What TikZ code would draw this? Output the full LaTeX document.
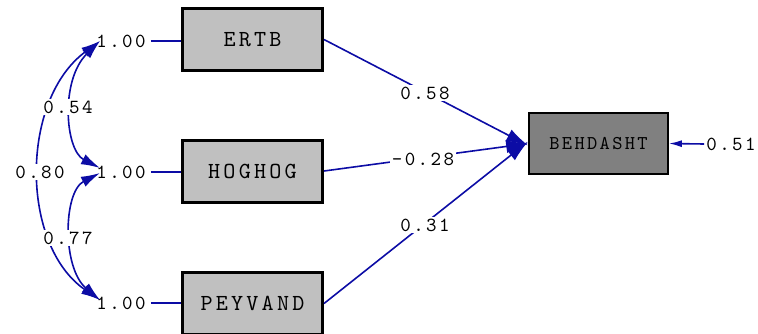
\documentclass[tikz,border=0pt]{standalone}
\usepackage{fontspec}
\usetikzlibrary{arrows.meta}
% Spaced-out typewriter faces for the path labels and the variable names
\newfontfamily\lbfont{lmmono10-regular.otf}[LetterSpace=12]
\newfontfamily\bxfont{lmmono10-regular.otf}[LetterSpace=14]
\newfontfamily\dvfont{lmmono10-regular.otf}[LetterSpace=12]
\definecolor{pathblue}{RGB}{12,12,165}
\definecolor{obsgray}{RGB}{192,192,192}
\definecolor{depgray}{RGB}{128,128,128}
\begin{document}
\begin{tikzpicture}[x=1pt,y=-1pt,
  lk/.style={draw=pathblue, line width=1.6pt},
  tip/.style={-{Latex[length=22pt,width=13pt]}},
  dtip/.style={{Latex[length=19pt,width=11pt]}-{Latex[length=19pt,width=11pt]}},
  obs/.style={draw=black, line width=3pt, fill=obsgray, minimum width=140pt,
    minimum height=62pt, inner sep=0pt, font=\bxfont\fontsize{23}{23}\selectfont},
  dep/.style={draw=black, line width=2.2pt, fill=depgray, minimum width=138.5pt,
    minimum height=60.5pt, inner sep=0pt, font=\dvfont\fontsize{19.5}{20}\selectfont},
  val/.style={fill=white, inner sep=1.5pt, text=black,
    font=\lbfont\fontsize{20}{20}\selectfont},
  var/.style={inner sep=0pt, text=black, font=\lbfont\fontsize{20}{20}\selectfont}]
\useasboundingbox (0,0) rectangle (758,333);

% observed variables and the dependent one
\node[obs] (ertb) at (252.5,39.5) {ERTB};
\node[obs] (hog)  at (252.5,171)  {HOGHOG};
\node[obs] (pey)  at (252.5,303.5) {PEYVAND};
\node[dep] (beh)  at (598.5,143.5) {BEHDASHT};

% variances of the exogenous variables
\node[var] (v1) at (121,41)  {1.00};
\node[var] (v2) at (121,172) {1.00};
\node[var] (v3) at (121,303) {1.00};
\coordinate (t1) at (100,41);
\coordinate (t2a) at (100,168);
\coordinate (t2b) at (100,173);
\coordinate (t3) at (100,300);

\draw[lk] ([xshift=5pt]v1.east) -- (ertb.west |- v1.east);
\draw[lk] ([xshift=5pt]v2.east) -- (hog.west |- v2.east);
\draw[lk] ([xshift=5pt]v3.east) -- (pey.west |- v3.east);

% covariances
\draw[lk,dtip] (t1) .. controls (20,100) and (20,245) .. (t3);
\draw[lk,dtip] (t1) .. controls (60,80) and (65,150) .. (t2a);
\draw[lk,dtip] (t2b) .. controls (63,192) and (62,268) .. (t3);
\node[val] (c80) at (40,172) {0.80};
\node[val] (c54) at (68,107) {0.54};
\node[val] (c77) at (68,238) {0.77};

% structural paths
\draw[lk,tip] (ertb.east) -- ([yshift=-2pt]beh.west);
\draw[lk,tip] (hog.east) -- (beh.west);
\draw[lk,tip] (pey.east) -- ([yshift=2pt]beh.west);
\node[val] (p58) at (425,93)  {0.58};
\node[val] (p28) at (423,159) {-0.28};
\node[val] (p31) at (425,225) {0.31};

% error variance
\node[var] (err) at (731,144) {0.51};
\draw[lk,-{Latex[length=13pt,width=7pt]}] ([xshift=-2pt]err.west) -- (beh.east);
\end{tikzpicture}
\end{document}
